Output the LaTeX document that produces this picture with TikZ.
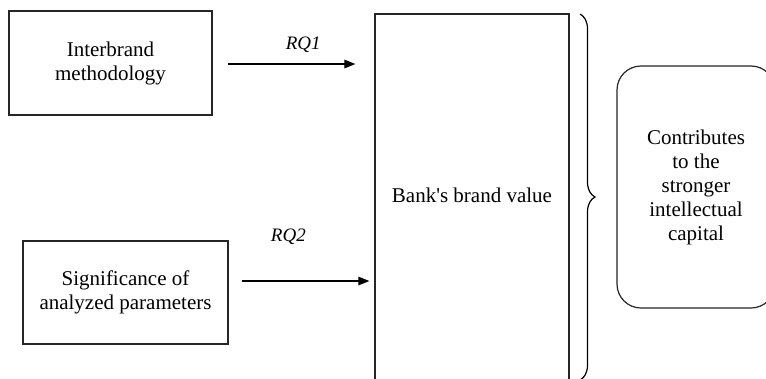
\documentclass[tikz,border=0pt]{standalone}
\usepackage{fontspec}
\setmainfont{Liberation Serif}
\usetikzlibrary{arrows.meta,decorations.pathreplacing}
\tikzset{
  box/.style={draw=black!85, line width=1.2pt, align=center, inner sep=0pt,
    font=\fontsize{21}{24}\selectfont},
  arr/.style={line width=1.1pt, -{Triangle[length=11pt,width=8.5pt]}},
  lbl/.style={font=\fontsize{19}{22}\selectfont\itshape, inner sep=0pt}
}
\begin{document}
\begin{tikzpicture}[x=1pt,y=-1pt]
\useasboundingbox (0,0) rectangle (766,378);
\fill[white] (0,0) rectangle (766,378);
\node[box, minimum width=203pt, minimum height=104pt] (b1) at (110.5,63) {Interbrand\\methodology};
\node[box, minimum width=205pt, minimum height=103pt] (b2) at (125.5,292.5) {Significance of\\analyzed parameters};
\node[box, minimum width=194pt, minimum height=380pt] (bank) at (472,204) {};
\node[box, draw=none] (banktxt) at (472,195) {Bank\textquotesingle s brand value};
\node[box, rounded corners=24pt, minimum width=158pt, minimum height=242pt] (cap) at (696,187) {Contributes\\to the\\stronger\\intellectual\\capital};
\coordinate (bt) at (580,14);
\coordinate (bb) at (580,380);
\draw[line width=1.2pt, decorate, decoration={brace, amplitude=15pt}] (bt) -- (bb);
\draw[arr, shorten <=15pt, shorten >=19pt] ([yshift=-1pt]b1.east) -- node[lbl, pos=0.56, yshift=19pt] {RQ1} ([yshift=-1pt]b1.east -| bank.west);
\draw[arr, shorten <=13pt, shorten >=5pt] ([yshift=11.5pt]b2.east) -- node[lbl, pos=0.41, yshift=44pt] {RQ2} ([yshift=11.5pt]b2.east -| bank.west);
\end{tikzpicture}
\end{document}
